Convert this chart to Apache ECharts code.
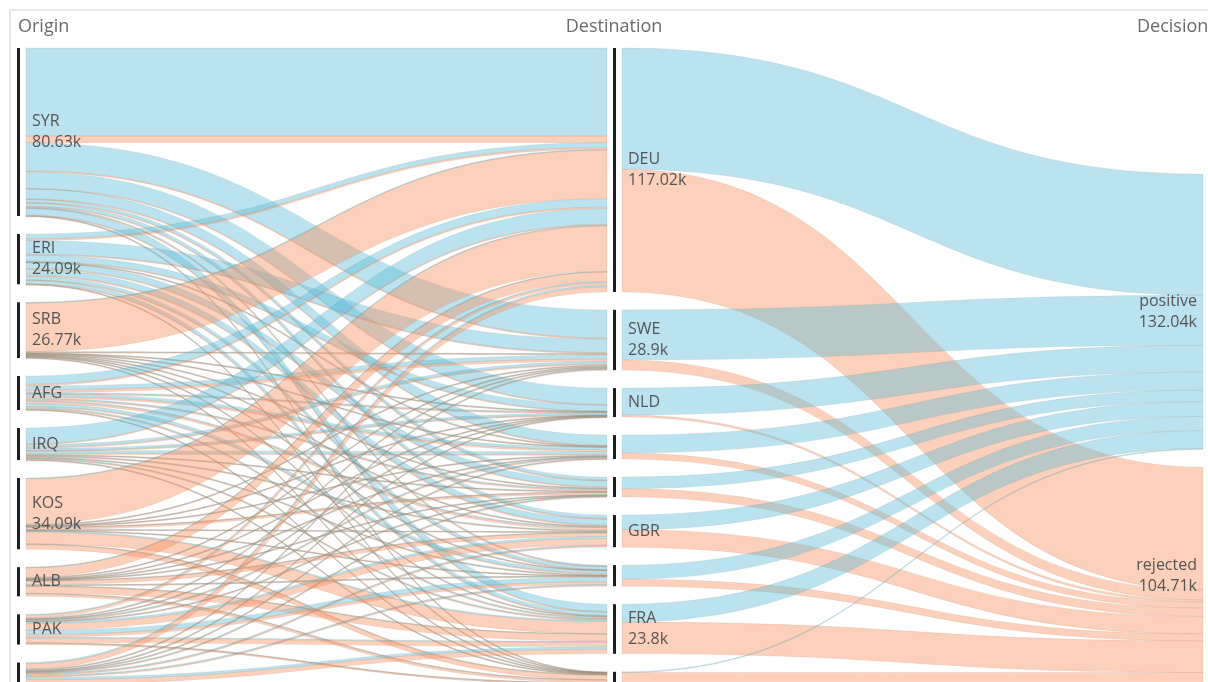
<!DOCTYPE html>
<html>
<head>
<meta charset="utf-8">
<script src="https://cdn.jsdelivr.net/npm/echarts@6/dist/echarts.min.js"></script>
<style>
  html, body { margin: 0; padding: 0; background: #fff; overflow: hidden; }
  #frame { position: absolute; left: 9px; top: 9px; width: 1400px; height: 900px;
           border: 2px solid #e8e8e8; box-sizing: border-box; }
  #chart { position: absolute; left: 0; top: 0; width: 1208px; height: 682px; }
</style>
</head>
<body>
<div id="frame"></div>
<div id="chart"></div>
<script>
// Asylum decisions (thousands): origin country -> destination country -> decision
const origins = ['SYR', 'ERI', 'SRB', 'AFG', 'IRQ', 'KOS', 'ALB', 'PAK', 'IRN'];
const destinations = ['DEU', 'SWE', 'NLD', 'AUT', 'CHE', 'GBR', 'ITA', 'FRA', 'BEL'];
const decisions = ['positive', 'rejected'];
const columnTitles = ['Origin', 'Destination', 'Decision'];

// rows follow `origins`, columns follow `destinations`
const positiveFlows = [
  [42.25, 13.5, 7.9, 4.9, 1.5, 1.6, 0.5, 3.5, 0.13],
  [2.35, 6.5, 3.0, 0.24, 3.0, 2.8, 1.6, 1.7, 0.05],
  [0.3, 0.1, 0.05, 0.05, 0.05, 0.05, 0.05, 0.1, 0.01],
  [4.0, 2.0, 0.5, 1.3, 0.4, 0.5, 1.4, 0.5, 0.05],
  [7.6, 1.2, 1.0, 1.3, 0.2, 0.3, 0.3, 0.4, 0.03],
  [0.3, 0.1, 0.05, 0.05, 0.05, 0.05, 0.05, 0.6, 0.02],
  [0.2, 0.1, 0.1, 0.05, 0.05, 0.2, 0.2, 0.1, 0.01],
  [0.5, 0.2, 0.1, 0.46, 0.05, 1.0, 2.2, 0.5, 0.02],
  [0.7, 0.3, 0.2, 0.25, 0.3, 0.5, 0.5, 1.2, 0.02]
];
const rejectedFlows = [
  [3.2, 0.5, 0.1, 0.2, 0.2, 0.3, 0.05, 0.2, 0.1],
  [0.8, 0.4, 0.1, 0.05, 0.5, 0.6, 0.1, 0.2, 0.1],
  [23.41, 0.6, 0.1, 0.3, 0.4, 0.3, 0.2, 0.4, 0.3],
  [0.7, 1.2, 0.1, 0.9, 0.6, 1.0, 0.5, 0.35, 0.3],
  [0.37, 0.6, 0.1, 0.5, 0.3, 0.4, 0.2, 0.4, 0.2],
  [21.87, 0.5, 0.1, 0.4, 1.2, 0.3, 0.2, 5.75, 2.5],
  [4.78, 0.4, 0.2, 0.1, 0.3, 1.9, 0.4, 3.5, 1.41],
  [1.27, 0.3, 0.1, 0.3, 0.2, 3.1, 1.2, 2.2, 0.8],
  [2.42, 0.4, 0.1, 0.15, 0.3, 0.5, 0.45, 2.2, 0.48]
];

const decisionColors = { positive: '#5bbcd9', rejected: '#fb8f5e' };
const flowsByDecision = { positive: positiveFlows, rejected: rejectedFlows };

const FONT = '"Open Sans", "Noto Sans", sans-serif';
const box = { left: 11, right: -10, top: 48, bottom: -3.4 };
const nodeWidth = 15;
const nodeGap = 18;

const chart = echarts.init(document.getElementById('chart'), null, { renderer: 'canvas' });

// links: origin -> destination split by decision, destination -> decision
const links = [];
origins.forEach((o, i) => {
  destinations.forEach((d, j) => {
    decisions.forEach(dec => {
      links.push({
        source: o, target: d, value: flowsByDecision[dec][i][j],
        lineStyle: { color: decisionColors[dec] }
      });
    });
  });
});
const decisionTotals = {};
decisions.forEach(dec => { decisionTotals[dec] = 0; });
destinations.forEach((d, j) => {
  decisions.forEach(dec => {
    let v = 0;
    origins.forEach((o, i) => { v += flowsByDecision[dec][i][j]; });
    decisionTotals[dec] += v;
    links.push({ source: d, target: dec, value: v, lineStyle: { color: decisionColors[dec] } });
  });
});

// vertical scale used by the sankey layout (fullest column fills the height)
const grandTotal = decisions.reduce((s, dec) => s + decisionTotals[dec], 0);
const layoutHeight = chart.getHeight() - box.top - box.bottom;
const maxColumnNodes = Math.max(origins.length, destinations.length, decisions.length);
const ky = (layoutHeight - (maxColumnNodes - 1) * nodeGap) / grandTotal;

// last column rests on the bottom edge of the layout
const decisionLocalY = {};
let cursor = layoutHeight;
decisions.slice().reverse().forEach(dec => {
  cursor -= decisionTotals[dec] * ky;
  decisionLocalY[dec] = cursor / layoutHeight;
  cursor -= nodeGap;
});

const barFill = {
  type: 'linear', x: 0, y: 0, x2: 1, y2: 0,
  colorStops: [
    { offset: 0, color: 'rgba(0,0,0,0)' }, { offset: 0.4, color: 'rgba(0,0,0,0)' },
    { offset: 0.4, color: '#1e1e1e' }, { offset: 0.6, color: '#1e1e1e' },
    { offset: 0.6, color: 'rgba(0,0,0,0)' }, { offset: 1, color: 'rgba(0,0,0,0)' }
  ]
};

const nodes = []
  .concat(origins.map(n => ({ name: n })))
  .concat(destinations.map(n => ({ name: n })))
  .concat(decisions.map(n => ({
    name: n,
    localY: decisionLocalY[n],
    label: { position: 'left', align: 'right' }
  })));

function nodeLabel(p) {
  const h = p.value * ky;
  const v = Number(p.value.toFixed(2)) + 'k';
  if (h >= 46) return p.name + '\n' + v;
  if (h >= 26) return p.name;
  return '';
}

// column headings
const colX = [18, 614, 1137];
const colAlign = ['left', 'center', 'left'];
const graphic = columnTitles.map((t, i) => ({
  type: 'text', x: colX[i], y: 27, silent: true,
  style: { text: t, font: '18px ' + FONT, fill: '#6b6b6b', align: colAlign[i], verticalAlign: 'middle' }
}));

chart.setOption({
  animation: false,
  graphic: graphic,
  series: [{
    type: 'sankey',
    left: box.left, right: box.right, top: box.top, bottom: box.bottom,
    nodeWidth: nodeWidth,
    nodeGap: nodeGap,
    layoutIterations: 0,
    draggable: false,
    emphasis: { disabled: true },
    data: nodes,
    links: links,
    itemStyle: { color: barFill, borderWidth: 0 },
    lineStyle: { opacity: 0.42, curveness: 0.5, borderColor: 'rgba(95,95,75,0.45)', borderWidth: 0.5 },
    label: {
      show: true, position: 'right', distance: 6,
      fontFamily: FONT, fontSize: 16, lineHeight: 21, color: '#555',
      formatter: nodeLabel
    }
  }]
});
</script>
</body>
</html>
